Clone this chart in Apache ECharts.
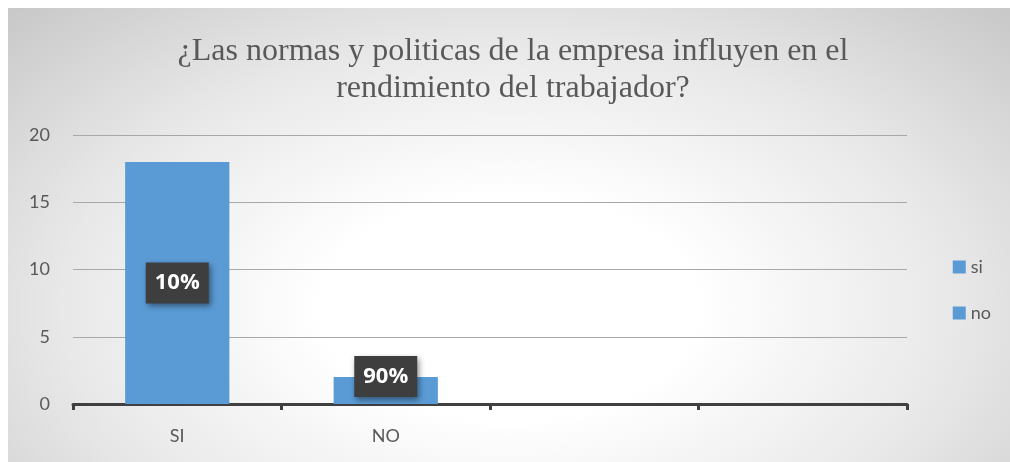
<!DOCTYPE html>
<html>
<head>
<meta charset="utf-8">
<script src="https://cdn.jsdelivr.net/npm/echarts@6/dist/echarts.min.js"></script>
<style>
  html, body { margin: 0; padding: 0; background: #ffffff; }
  #bg {
    position: absolute; left: 8px; top: 8px; width: 1002px; height: 454px;
    background: radial-gradient(ellipse 72% 95% at 50% 66%, #ffffff 0%, #ffffff 26%, #e8e8e8 62%, #c6c6c6 100%);
  }
  #chart { position: absolute; left: 0; top: 0; width: 1010px; height: 462px; }
</style>
</head>
<body>
<div id="bg"></div>
<div id="chart"></div>
<script>
// Categories along the x axis (two empty slots on the right)
const categories = ['SI', 'NO', '', ''];
// Series values
const siValues = [18, null, null, null];
const noValues = [null, 2, null, null];
// Text shown on each bar
const siLabels = ['10%', '', '', ''];
const noLabels = ['', '90%', '', ''];
// Y axis ticks
const yMin = 0, yMax = 20, yStep = 5;

const titleText = '¿Las normas y politicas de la empresa influyen en el\nrendimiento del trabajador?';

const chart = echarts.init(document.getElementById('chart'), null, { renderer: 'canvas' });

const barLabel = {
  show: true,
  color: '#ffffff',
  fontFamily: 'Open Sans',
  fontWeight: 'bold',
  fontSize: 22,
  lineHeight: 22,
  backgroundColor: '#3e3e3e',
  padding: [10, 9, 9, 9],
  shadowBlur: 6,
  shadowColor: 'rgba(0,0,0,0.45)',
  shadowOffsetX: 2,
  shadowOffsetY: 3
};

chart.setOption({
  backgroundColor: 'transparent',
  animation: false,
  // Two-line title, centred over the framed chart area
  graphic: [{
    type: 'text',
    x: 513,
    y: 33,
    style: {
      text: titleText,
      align: 'center',
      verticalAlign: 'top',
      fontFamily: 'Liberation Serif',
      fontSize: 32,
      lineHeight: 37,
      fill: '#595959'
    }
  }],
  legend: {
    orient: 'vertical',
    right: 14,
    top: 253,
    itemWidth: 13,
    itemHeight: 13,
    itemGap: 28,
    icon: 'rect',
    textStyle: { fontFamily: 'Lato', fontSize: 18, color: '#595959' },
    data: ['si', 'no']
  },
  grid: { left: 73, right: 103, top: 135, bottom: 58 },
  xAxis: {
    type: 'category',
    data: categories,
    axisLine: { lineStyle: { color: '#404040', width: 3 } },
    axisTick: { show: true, length: 6, lineStyle: { color: '#404040', width: 3 } },
    axisLabel: { fontFamily: 'Lato', fontSize: 18, color: '#595959', margin: 23 }
  },
  yAxis: {
    type: 'value',
    min: yMin,
    max: yMax,
    interval: yStep,
    axisLine: { show: false },
    axisTick: { show: false },
    axisLabel: { fontFamily: 'Lato', fontSize: 18, color: '#595959', margin: 23 },
    splitLine: { lineStyle: { color: '#a8a8a8', width: 1 } }
  },
  series: [
    {
      name: 'si',
      type: 'bar',
      stack: 'total',
      barWidth: '50%',
      itemStyle: { color: '#5b9bd5' },
      data: siValues,
      label: Object.assign({}, barLabel, {
        position: 'inside',
        formatter: p => siLabels[p.dataIndex]
      })
    },
    {
      name: 'no',
      type: 'bar',
      stack: 'total',
      barWidth: '50%',
      itemStyle: { color: '#5b9bd5' },
      data: noValues,
      label: Object.assign({}, barLabel, {
        position: 'insideBottom',
        distance: 7,
        formatter: p => noLabels[p.dataIndex]
      })
    }
  ]
});
</script>
</body>
</html>
